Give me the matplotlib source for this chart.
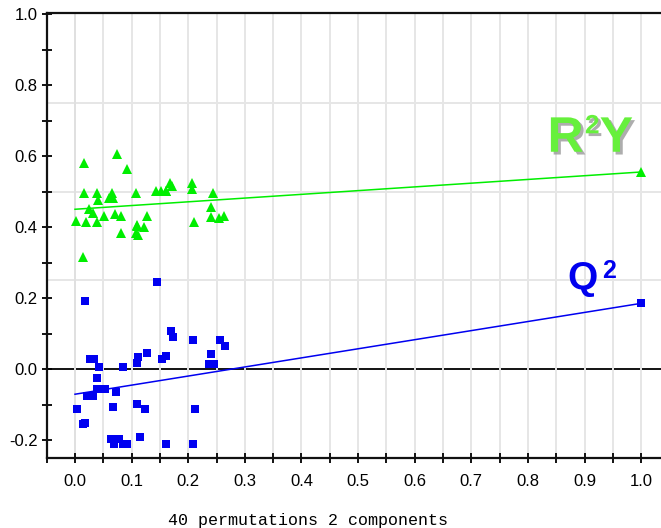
import numpy as np
import matplotlib.pyplot as plt
import matplotlib.patheffects as pe
from matplotlib.ticker import MultipleLocator

plt.rcParams['font.family'] = ['Liberation Sans', 'DejaVu Sans']
plt.rcParams['axes.unicode_minus'] = False

# permuted models: correlation (x) vs R2Y / Q2
r2y_x = [0.002, 0.014, 0.015, 0.015, 0.019, 0.024, 0.032, 0.038, 0.038, 0.040,
         0.052, 0.060, 0.066, 0.067, 0.071, 0.074, 0.082, 0.082, 0.091, 0.107,
         0.107, 0.109, 0.112, 0.121, 0.127, 0.143, 0.152, 0.161, 0.168, 0.171,
         0.207, 0.207, 0.210, 0.240, 0.240, 0.243, 0.254, 0.263, 0.109, 0.160]
r2y_y = [0.418, 0.316, 0.581, 0.497, 0.415, 0.452, 0.440, 0.497, 0.415, 0.476,
         0.432, 0.481, 0.495, 0.483, 0.438, 0.605, 0.432, 0.384, 0.563, 0.495,
         0.382, 0.406, 0.377, 0.401, 0.432, 0.502, 0.502, 0.502, 0.525, 0.515,
         0.525, 0.507, 0.415, 0.457, 0.427, 0.497, 0.424, 0.432, 0.404, 0.502]

q2_x = [0.003, 0.014, 0.018, 0.018, 0.022, 0.027, 0.032, 0.034, 0.038, 0.039,
        0.042, 0.053, 0.064, 0.067, 0.068, 0.072, 0.077, 0.085, 0.085, 0.092,
        0.109, 0.109, 0.111, 0.115, 0.123, 0.128, 0.144, 0.153, 0.160, 0.161,
        0.169, 0.173, 0.208, 0.208, 0.212, 0.237, 0.241, 0.246, 0.256, 0.265]
q2_y = [-0.112, -0.156, -0.151, 0.192, -0.076, 0.027, -0.076, 0.028, -0.024, -0.057,
        0.005, -0.055, -0.197, -0.106, -0.212, -0.064, -0.197, 0.005, -0.212, -0.212,
        0.016, -0.098, 0.035, -0.191, -0.112, 0.046, 0.246, 0.027, -0.212, 0.037,
        0.107, 0.091, 0.082, -0.212, -0.113, 0.014, 0.042, 0.014, 0.082, 0.066]

# original model and regression intercepts
r2y_orig = 0.555
q2_orig = 0.185
r2y_icpt = 0.450
q2_icpt = -0.071

green = '#00ee00'
blue = '#0000f0'

fig = plt.figure(figsize=(6.61, 5.28), dpi=100)
ax = fig.add_axes([46.7/661, 1-458.3/528, 1-46.7/661, (458.3-12.7)/528])

ax.set_xlim(-0.05, 1.035)
ax.set_ylim(-0.2515, 1.0037)

# grid
ax.xaxis.set_major_locator(MultipleLocator(0.1))
ax.xaxis.set_minor_locator(MultipleLocator(0.05))
ax.yaxis.set_major_locator(MultipleLocator(0.2))
ax.yaxis.set_minor_locator(MultipleLocator(0.1))
ax.grid(True, axis='x', which='both', color='#e6e6e6', lw=1.4, zorder=0)
for yv in [0.25, 0.5, 0.75]:
    ax.axhline(yv, color='#e6e6e6', lw=1.4, zorder=0)
ax.axhline(0, color='black', lw=1.3, zorder=1)
ax.axvline(0, color='black', lw=1.3, zorder=1)

# regression lines
ax.plot([0, 1], [r2y_icpt, r2y_orig], color=green, lw=1.1, zorder=2)
ax.plot([0, 1], [q2_icpt, q2_orig], color=blue, lw=1.1, zorder=2)

ax.plot(r2y_x + [1.0], r2y_y + [r2y_orig], '^', color=green, ms=7.5, mew=0, zorder=3)
ax.plot(q2_x + [1.0], q2_y + [q2_orig], 's', color=blue, ms=5.8, mew=0, zorder=3)

# labels, letters placed one by one like the original
shadow = [pe.withSimplePatchShadow(offset=(2, -2), shadow_rgbFace='#999999', alpha=0.8)]
lab_green = '#66f03c'
ax.text(0.8346, 0.612, 'R', color=lab_green, fontsize=36, fontweight='bold',
        va='baseline', path_effects=shadow)
ax.text(0.9006, 0.664, '2', color=lab_green, fontsize=19, fontweight='bold',
        va='baseline', path_effects=shadow)
ax.text(0.9267, 0.612, 'Y', color=lab_green, fontsize=36, fontweight='bold',
        va='baseline', path_effects=shadow)
ax.text(0.8688, 0.2254, 'Q', color='#0000ee', fontsize=28, fontweight='bold',
        va='baseline')
ax.text(0.9316, 0.2555, '2', color='#0000ee', fontsize=18, fontweight='bold',
        va='baseline')

# ticks / spines
ax.spines['right'].set_visible(False)
for s in ['left', 'top', 'bottom']:
    ax.spines[s].set_linewidth(1.6)
    ax.spines[s].set_color('#111111')
ax.tick_params(axis='y', which='both', direction='inout', length=7, width=1.3,
               labelsize=12, pad=3)
ax.tick_params(axis='x', which='both', direction='inout', length=7, width=1.3,
               labelsize=12, pad=8)
ax.set_xticks(np.round(np.arange(0, 1.01, 0.1), 1))
ax.set_xticklabels(['%.1f' % v for v in np.arange(0, 1.01, 0.1)])
ax.set_yticks(np.round(np.arange(-0.2, 1.01, 0.2), 1))
ax.set_yticklabels(['%.1f' % v for v in np.arange(-0.2, 1.01, 0.2)])

fig.text(307.5/661, 1-520/528, '40 permutations 2 components', family='Liberation Mono',
         fontsize=12, ha='center', va='center')

fig.savefig('out.png', dpi=100)
